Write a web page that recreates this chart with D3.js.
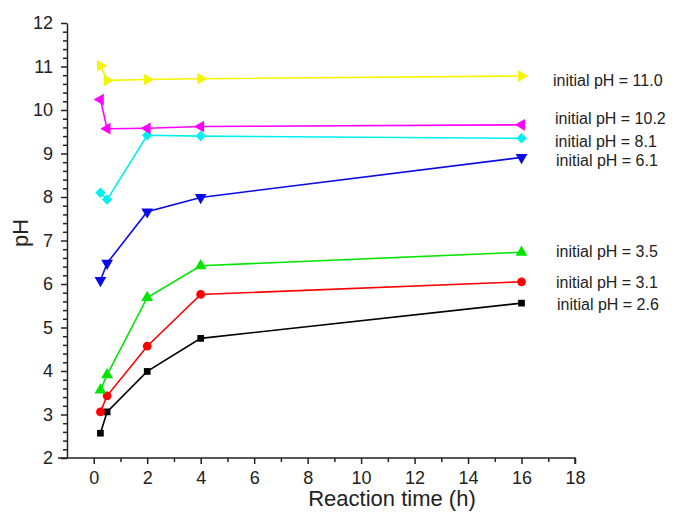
<!DOCTYPE html>
<html>
<head>
<meta charset="utf-8">
<script src="https://cdn.jsdelivr.net/npm/d3@7"></script>
<style>
  body { margin: 0; background: #fff; }
  text { font-family: Arial, "Liberation Sans", sans-serif; }
</style>
</head>
<body>
<svg id="svg1"></svg>
<script>
// data
const times = [0.25, 0.5, 2, 4, 16];
const ph26 = [2.57, 3.06, 3.99, 4.75, 5.56];
const ph31 = [3.06, 3.43, 4.57, 5.76, 6.05];
const ph35 = [3.56, 3.91, 5.69, 6.42, 6.73];
const ph61 = [6.08, 6.48, 7.66, 7.99, 8.91];
const ph81 = [8.10, 7.94, 9.42, 9.40, 9.35];
const ph102 = [10.24, 9.57, 9.58, 9.62, 9.66];
const ph110 = [11.02, 10.68, 10.70, 10.72, 10.78];
const seriesLabels = ["initial pH = 2.6", "initial pH = 3.1", "initial pH = 3.5", "initial pH = 6.1",
                      "initial pH = 8.1", "initial pH = 10.2", "initial pH = 11.0"];
const xTicks = [0, 2, 4, 6, 8, 10, 12, 14, 16, 18];
const yTicks = [2, 3, 4, 5, 6, 7, 8, 9, 10, 11, 12];

// layout
const W = 675, H = 512;
const x0 = 67, x1 = 575, y0 = 458, y1 = 23;
// label positions (pixel layout, same order as seriesLabels)
const labelPos = [[557, 310], [556, 288], [556, 257], [556, 166], [555, 147], [555, 124], [553, 86]];

const svg = d3.select('#svg1').attr('width', W).attr('height', H);

const x = d3.scaleLinear().domain([-1, 18]).range([x0, x1]);
const y = d3.scaleLinear().domain([2, 12]).range([y0, y1]);

// minor ticks
svg.append('g')
    .attr('transform', 'translate(0,' + y0 + ')')
    .call(d3.axisBottom(x).tickValues(d3.range(1, 18, 2)).tickSize(4).tickFormat(''))
    .call(g => g.select('.domain').remove())
    .selectAll('line').attr('stroke', '#222').attr('stroke-width', 1.5);
svg.append('g')
    .attr('transform', 'translate(' + x0 + ',0)')
    .call(d3.axisLeft(y).tickValues(d3.range(2, 12.01, 0.2).filter(v => Math.abs(v - Math.round(v)) > 0.01)).tickSize(4).tickFormat(''))
    .call(g => g.select('.domain').remove())
    .selectAll('line').attr('stroke', '#222').attr('stroke-width', 1.5);

// X axis
const gx = svg.append('g')
    .attr('transform', 'translate(0,' + y0 + ')')
    .call(d3.axisBottom(x).tickValues(xTicks).tickSize(6).tickSizeOuter(0).tickPadding(7));
gx.select('.domain').attr('d', 'M' + (x0 - 9) + ',0H' + x1 + 'V6');
// Y axis
const gy = svg.append('g')
    .attr('transform', 'translate(' + x0 + ',0)')
    .call(d3.axisLeft(y).tickValues(yTicks).tickSize(6).tickSizeOuter(0).tickPadding(8));
[gx, gy].forEach(g => {
  g.select('.domain').attr('stroke', '#222').attr('stroke-width', 1.5);
  g.selectAll('.tick line').attr('stroke', '#222').attr('stroke-width', 1.5);
  g.selectAll('text').attr('fill', '#222').style('font-size', '18px');
});

// axis titles
svg.append('text')
    .attr('x', 392).attr('y', 506)
    .attr('text-anchor', 'middle')
    .style('font-size', '22px').attr('fill', '#222')
    .text('Reaction time (h)');
svg.append('text')
    .attr('transform', 'translate(28,233)rotate(-90)')
    .attr('text-anchor', 'middle')
    .style('font-size', '22px').attr('fill', '#222')
    .text('pH');

// series
const series = [
  {vals: ph26, color: '#000000', sym: d3.symbolSquare, size: 45, rot: 0},
  {vals: ph31, color: '#ff0000', sym: d3.symbolCircle, size: 60, rot: 0},
  {vals: ph35, color: '#00e600', sym: d3.symbolTriangle, size: 60, rot: 0},
  {vals: ph61, color: '#0a0ae6', sym: d3.symbolTriangle, size: 60, rot: 180},
  {vals: ph81, color: '#00f0f0', sym: d3.symbolSquare, size: 55, rot: 45},
  {vals: ph102, color: '#ff00ff', sym: d3.symbolTriangle, size: 60, rot: -90},
  {vals: ph110, color: '#f5f500', sym: d3.symbolTriangle, size: 60, rot: 90}
];

const line = d3.line().x(d => x(d[0])).y(d => y(d[1]));

series.forEach(function (s) {
  const pts = times.map((t, i) => [t, s.vals[i]]);
  svg.append('path')
      .datum(pts)
      .attr('d', line)
      .attr('fill', 'none')
      .attr('stroke', s.color)
      .attr('stroke-width', 1.6);
  svg.selectAll(null)
      .data(pts)
      .enter()
      .append('path')
      .attr('d', d3.symbol().type(s.sym).size(s.size))
      .attr('transform', d => 'translate(' + x(d[0]) + ',' + y(d[1]) + ')rotate(' + s.rot + ')')
      .attr('fill', s.color);
});

// labels
svg.selectAll('.lbl')
    .data(seriesLabels)
    .enter()
    .append('text')
    .attr('class', 'lbl')
    .attr('x', (d, i) => labelPos[i][0])
    .attr('y', (d, i) => labelPos[i][1])
    .style('font-size', '16px')
    .attr('fill', '#222')
    .text(d => d);
</script>
</body>
</html>
